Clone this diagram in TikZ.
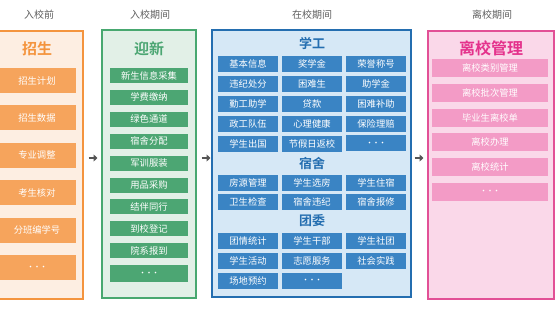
\documentclass[tikz,border=0pt]{standalone}
\usepackage{fontspec}
\setmainfont{Noto Sans CJK SC}[BoldFont={Noto Sans CJK SC Bold}]
\usepackage{xcolor}
\usepackage{tikz}
\usetikzlibrary{arrows.meta}
\definecolor{headgray}{RGB}{95,95,95}
\definecolor{arrgray}{RGB}{85,85,85}
\definecolor{zsline}{RGB}{244,148,62}
\definecolor{zsfill}{RGB}{253,238,226}
\definecolor{zsitem}{RGB}{246,164,92}
\definecolor{yxline}{RGB}{72,168,112}
\definecolor{yxfill}{RGB}{226,240,231}
\definecolor{yxitem}{RGB}{76,166,115}
\definecolor{xgline}{RGB}{36,110,176}
\definecolor{xgfill}{RGB}{214,232,246}
\definecolor{xgitem}{RGB}{58,132,196}
\definecolor{lxline}{RGB}{226,80,150}
\definecolor{lxfill}{RGB}{250,216,233}
\definecolor{lxitem}{RGB}{243,155,198}
\definecolor{lxtitle}{RGB}{228,50,140}

\begin{document}
\begin{tikzpicture}[x=1pt, y=-1pt, every node/.style={inner sep=0pt},
  head/.style={font=\fontsize{10}{12}\selectfont, text=headgray},
  panel/.style={line width=2.6pt},
  item/.style={text=white, font=\fontsize{9.3}{10}\selectfont},
  dots/.style={font=\fontsize{6.5}{7}\bfseries},
  flowarr/.style={arrgray, line width=2.6pt, -{Triangle[length=4pt,width=7pt]}}]
\useasboundingbox (0,0) rectangle (555,313);
% ---- column heads
\node[head] (hd1) at (39,15) {入校前};
\node[head] (hd2) at (150,15) {入校期间};
\node[head] (hd3) at (312,15) {在校期间};
\node[head] (hd4) at (492,15) {离校期间};
% ---- before: enrolment
\draw[panel, draw=zsline, fill=zsfill] (-10,31) rectangle (83,299);
\node[font=\fontsize{15}{16}\bfseries, text=zsline] (zstitle) at (37,49) {招生};
\foreach \t [count=\i from 0] in {招生计划,招生数据,专业调整,考生核对,分班编学号}
  \node[item, fill=zsitem, minimum width=78pt, minimum height=25pt] (zs\i) at (37,80.5+37.4*\i) {\t};
\node[item, dots, fill=zsitem, minimum width=78pt, minimum height=25pt] (zs5) at (37,267.5) {•••};
% ---- arrival: welcome
\draw[panel, draw=yxline, fill=yxfill] (102,30) rectangle (196,298);
\node[font=\fontsize{15}{16}\bfseries, text=yxitem] (yxtitle) at (149,49) {迎新};
\foreach \t [count=\i from 0] in {新生信息采集,学费缴纳,绿色通道,宿舍分配,军训服装,用品采购,结伴同行,到校登记,院系报到}
  \node[item, fill=yxitem, minimum width=78pt, minimum height=15pt] (yx\i) at (149,75.5+21.9*\i) {\t};
\node[item, dots, fill=yxitem, minimum width=78pt, minimum height=17pt] (yx9) at (149,273.5) {•••};
% ---- at school: three groups
\draw[panel, draw=xgline, fill=xgfill] (212,30) rectangle (411,297);
\node[font=\fontsize{13}{14}\bfseries, text=xgline] (xgtitle) at (312,43) {学工};
\foreach \t/\c/\r in {基本信息/0/0,奖学金/1/0,荣誉称号/2/0,违纪处分/0/1,困难生/1/1,助学金/2/1,
    勤工助学/0/2,贷款/1/2,困难补助/2/2,政工队伍/0/3,心理健康/1/3,保险理赔/2/3,学生出国/0/4,节假日返校/1/4}
  \node[item, fill=xgitem, minimum width=60pt, minimum height=16pt] (xg\c\r) at (248+64*\c,64+19.9*\r) {\t};
\node[item, dots, fill=xgitem, minimum width=60pt, minimum height=16pt] (xg24) at (376,143.5) {•••};
\node[font=\fontsize{13}{14}\bfseries, text=xgline] (sstitle) at (312,163) {宿舍};
\foreach \t/\c/\r in {房源管理/0/0,学生选房/1/0,学生住宿/2/0,卫生检查/0/1,宿舍违纪/1/1,宿舍报修/2/1}
  \node[item, fill=xgitem, minimum width=60pt, minimum height=16pt] (ss\c\r) at (248+64*\c,182.5+19.5*\r) {\t};
\node[font=\fontsize{13}{14}\bfseries, text=xgline] (twtitle) at (312,221) {团委};
\foreach \t/\c/\r in {团情统计/0/0,学生干部/1/0,学生社团/2/0,学生活动/0/1,志愿服务/1/1,社会实践/2/1,场地预约/0/2}
  \node[item, fill=xgitem, minimum width=60pt, minimum height=16pt] (tw\c\r) at (248+64*\c,241+20*\r) {\t};
\node[item, dots, fill=xgitem, minimum width=60pt, minimum height=16pt] (tw12) at (312,281) {•••};
% ---- leaving
\draw[panel, draw=lxline, fill=lxfill] (428,31) rectangle (554,299);
\node[font=\fontsize{16}{17}\bfseries, text=lxtitle] (lxtitle) at (491,48) {离校管理};
\foreach \t [count=\i from 0] in {离校类别管理,离校批次管理,毕业生离校单,离校办理,离校统计}
  \node[item, fill=lxitem, minimum width=116pt, minimum height=18pt] (lx\i) at (490,68+24.8*\i) {\t};
\node[item, dots, fill=lxitem, minimum width=116pt, minimum height=18pt] (lx5) at (490,192) {•••};
% ---- flow marks between stages
\coordinate (f1a) at (88.5,158); \coordinate (f1b) at (97.5,158);
\coordinate (f2a) at (201.5,158); \coordinate (f2b) at (210.5,158);
\coordinate (f3a) at (414.5,158); \coordinate (f3b) at (423.5,158);
\draw[flowarr] (f1a) -- (f1b);
\draw[flowarr] (f2a) -- (f2b);
\draw[flowarr] (f3a) -- (f3b);
\end{tikzpicture}
\end{document}
